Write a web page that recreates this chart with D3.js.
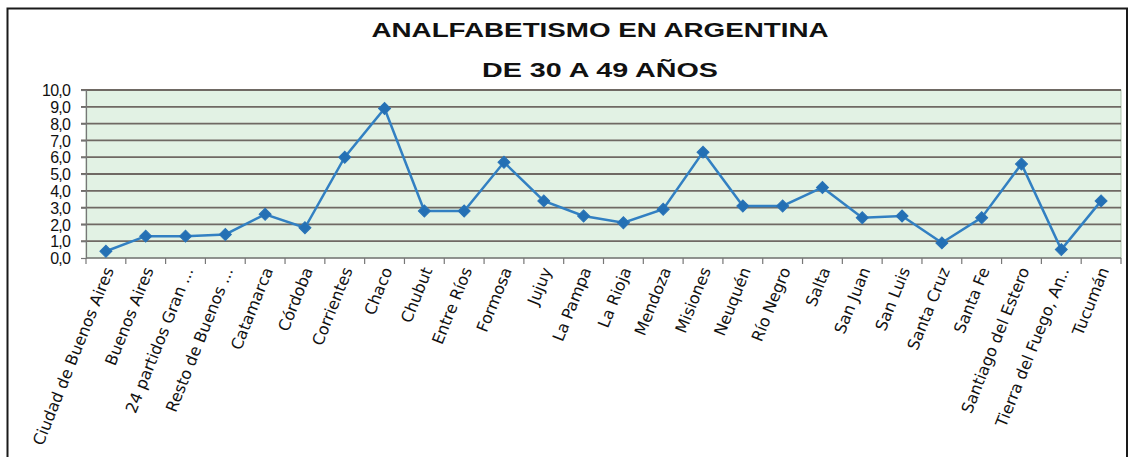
<!DOCTYPE html>
<html>
<head>
<meta charset="utf-8">
<script src="https://cdn.jsdelivr.net/npm/d3@7"></script>
<style>
  html, body { margin: 0; padding: 0; background: #ffffff; }
  svg { display: block; }
</style>
</head>
<body>
<svg id="chart" width="1147" height="457"></svg>
<script>
const categories = [
  "Ciudad de Buenos Aires", "Buenos Aires", "24 partidos Gran ...", "Resto de Buenos ...",
  "Catamarca", "Córdoba", "Corrientes", "Chaco", "Chubut", "Entre Ríos", "Formosa",
  "Jujuy", "La Pampa", "La Rioja", "Mendoza", "Misiones", "Neuquén", "Río Negro",
  "Salta", "San Juan", "San Luis", "Santa Cruz", "Santa Fe", "Santiago del Estero",
  "Tierra del Fuego, An..", "Tucumán"
];
const values = [
  0.4, 1.3, 1.3, 1.4, 2.6, 1.8, 6.0, 8.9, 2.8, 2.8, 5.7,
  3.4, 2.5, 2.1, 2.9, 6.3, 3.1, 3.1, 4.2, 2.4, 2.5, 0.9,
  2.4, 5.6, 0.5, 3.4
];
const yTicks = [0, 1, 2, 3, 4, 5, 6, 7, 8, 9, 10];
const titleLines = ["ANALFABETISMO EN ARGENTINA", "DE 30 A 49 AÑOS"];

const svg = d3.select("#chart");
const W = 1147, H = 457;
const plot = { left: 86, right: 1121, top: 90, bottom: 258 };

// outer frame
svg.append("rect")
  .attr("x", 7.5).attr("y", 8.5)
  .attr("width", 1127 - 7.5).attr("height", H + 20)
  .attr("fill", "#ffffff").attr("stroke", "#1a1a1a").attr("stroke-width", 2);

// title
svg.selectAll("text.title").data(titleLines).enter().append("text")
  .attr("class", "title")
  .attr("x", 600)
  .attr("y", (d, i) => 37 + i * 40)
  .attr("text-anchor", "middle")
  .attr("font-family", "'Liberation Sans', Arial, sans-serif")
  .attr("font-weight", "bold")
  .attr("font-size", 21)
  .attr("fill", "#111")
  .attr("textLength", (d, i) => i === 0 ? 457 : 236)
  .attr("lengthAdjust", "spacingAndGlyphs")
  .text(d => d);

const x = d3.scaleBand().domain(categories).range([plot.left, plot.right]).padding(0);
const y = d3.scaleLinear().domain([0, 10]).range([plot.bottom, plot.top]);

// plot background
svg.append("rect")
  .attr("x", plot.left).attr("y", plot.top)
  .attr("width", plot.right - plot.left).attr("height", plot.bottom - plot.top)
  .attr("fill", "#e2f2e4").attr("stroke", "#b3c9b2").attr("stroke-width", 1);

// gridlines
svg.append("g").selectAll("line").data(yTicks.filter(d => d > 0)).enter().append("line")
  .attr("x1", plot.left - 5).attr("x2", plot.right)
  .attr("y1", d => y(d)).attr("y2", d => y(d))
  .attr("stroke", "#6f6963").attr("stroke-width", 1.8);

// y axis
const yAxis = d3.axisLeft(y).tickValues(yTicks).tickSize(5)
  .tickFormat(d => d3.format(".1f")(d).replace(".", ","));
const gy = svg.append("g").attr("transform", `translate(${plot.left},0)`).call(yAxis);
gy.select(".domain").attr("stroke", "#777").attr("stroke-width", 1.2);
gy.selectAll(".tick line").attr("stroke", "#777").attr("stroke-width", 1.2);
gy.selectAll(".tick text")
  .attr("x", -16)
  .attr("dy", "0.36em")
  .attr("font-family", "'Liberation Sans', Arial, sans-serif")
  .attr("font-size", 16)
  .attr("letter-spacing", -0.8)
  .attr("fill", "#111");

// x axis with ticks between categories
const boundaries = categories.map(c => x(c)).concat([plot.right]);
const gx = svg.append("g");
gx.append("line")
  .attr("x1", plot.left).attr("x2", plot.right)
  .attr("y1", plot.bottom).attr("y2", plot.bottom)
  .attr("stroke", "#777").attr("stroke-width", 1.4);
gx.selectAll("line.tk").data(boundaries).enter().append("line")
  .attr("class", "tk")
  .attr("x1", d => d).attr("x2", d => d)
  .attr("y1", plot.bottom).attr("y2", plot.bottom + 6)
  .attr("stroke", "#777").attr("stroke-width", 1.2);

gx.selectAll("text.lbl").data(categories).enter().append("text")
  .attr("class", "lbl")
  .attr("transform", d => `translate(${x(d) + x.bandwidth() / 2 + 3},${plot.bottom + 10}) rotate(-68)`)
  .attr("text-anchor", "end")
  .attr("dy", "0.35em")
  .attr("font-family", "'DejaVu Sans', sans-serif")
  .attr("font-size", 16)
  .attr("fill", "#111")
  .text(d => d);

// line
const line = d3.line()
  .x((d, i) => x(categories[i]) + x.bandwidth() / 2)
  .y(d => y(d));
svg.append("path").datum(values)
  .attr("d", line)
  .attr("fill", "none")
  .attr("stroke", "#3280c2")
  .attr("stroke-width", 2.5);

// diamond markers
svg.append("g").selectAll("path").data(values).enter().append("path")
  .attr("d", d3.symbol().type(d3.symbolSquare).size(72))
  .attr("transform", (d, i) => `translate(${x(categories[i]) + x.bandwidth() / 2},${y(d)}) rotate(45)`)
  .attr("fill", "#2470b4")
  .attr("stroke", "#2a74b8")
  .attr("stroke-width", 1);
</script>
</body>
</html>
